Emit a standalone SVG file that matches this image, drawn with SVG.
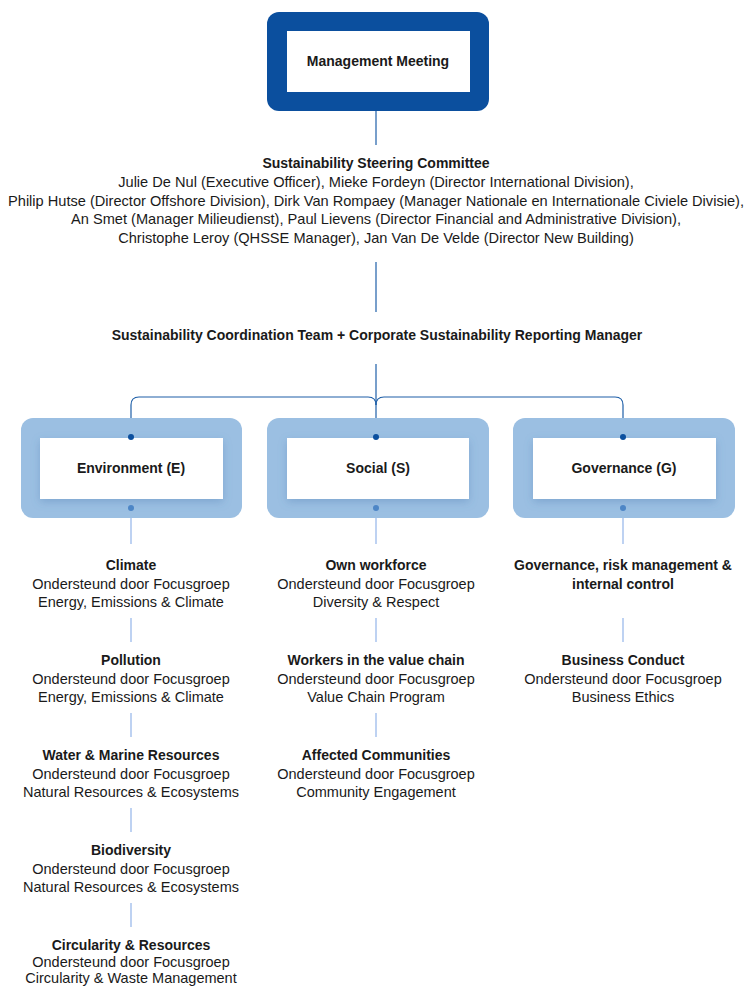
<svg xmlns="http://www.w3.org/2000/svg" width="747" height="986" viewBox="0 0 747 986">
<style>
text{font-family:"Liberation Sans",Arial,sans-serif;fill:#1a1a1a;text-anchor:middle}
.b{font-weight:bold;font-size:14px}
.r{font-size:14.5px}
.s{font-size:14.6px}
.dark{fill:#0B4F9E}
.light{fill:#9BBFE2}
.inner{fill:#ffffff}
.conn{fill:none;stroke:#1E5FA8;stroke-width:1.2}
.sep{fill:none;stroke:#A8C3EE;stroke-width:1.5}
.dot{fill:#0B4F9E}
.ldot{fill:#4D86C6}
</style>
<defs>
<filter id="sh" x="-20%" y="-30%" width="140%" height="160%">
<feDropShadow dx="0" dy="3" stdDeviation="4" flood-color="#4a78ae" flood-opacity="0.35"/>
</filter>
</defs>
<rect width="747" height="986" fill="#ffffff"/>

<g id="connectors">
<line class="conn" x1="376" y1="111" x2="376" y2="145"/>
<line class="conn" x1="376" y1="262" x2="376" y2="312"/>
<line class="conn" x1="376" y1="364" x2="376" y2="437"/>
<path class="conn" d="M131,437 V405 Q131,397 139,397 H368 Q376,397 376,405"/>
<path class="conn" d="M623,437 V405 Q623,397 615,397 H384 Q376,397 376,405"/>
<line class="sep" x1="131" y1="508" x2="131" y2="544"/>
<line class="sep" x1="376" y1="508" x2="376" y2="544"/>
<line class="sep" x1="623" y1="508" x2="623" y2="544"/>
<line class="sep" x1="131" y1="618" x2="131" y2="642"/>
<line class="sep" x1="131" y1="713" x2="131" y2="737"/>
<line class="sep" x1="131" y1="808" x2="131" y2="832"/>
<line class="sep" x1="131" y1="903" x2="131" y2="927"/>
<line class="sep" x1="376" y1="618" x2="376" y2="642"/>
<line class="sep" x1="376" y1="713" x2="376" y2="737"/>
<line class="sep" x1="623" y1="618" x2="623" y2="642"/>
</g>

<g id="management-meeting">
<rect class="dark" x="267" y="12" width="222" height="99" rx="12"/>
<rect class="inner" x="287" y="31" width="183" height="61"/>
<text class="b" x="378" y="66">Management Meeting</text>
</g>

<g id="steering-committee">
<text class="b" x="376" y="168">Sustainability Steering Committee</text>
<text class="s" x="376" y="187">Julie De Nul (Executive Officer), Mieke Fordeyn (Director International Division),</text>
<text class="s" x="376" y="205.5">Philip Hutse (Director Offshore Division), Dirk Van Rompaey (Manager Nationale en Internationale Civiele Divisie),</text>
<text class="s" x="376" y="224">An Smet (Manager Milieudienst), Paul Lievens (Director Financial and Administrative Division),</text>
<text class="s" x="376" y="242.5">Christophe Leroy (QHSSE Manager), Jan Van De Velde (Director New Building)</text>
</g>

<g id="coordination-team">
<text class="b" x="377" y="340">Sustainability Coordination Team + Corporate Sustainability Reporting Manager</text>
</g>

<g id="environment">
<rect class="light" x="21" y="418" width="221" height="100" rx="12"/>
<rect class="inner" x="40" y="438" width="183" height="61" filter="url(#sh)"/>
<text class="b" x="131" y="473">Environment (E)</text>
</g>
<g id="social">
<rect class="light" x="267" y="418" width="222" height="100" rx="12"/>
<rect class="inner" x="287" y="438" width="182" height="61" filter="url(#sh)"/>
<text class="b" x="378" y="473">Social (S)</text>
</g>
<g id="governance">
<rect class="light" x="513" y="418" width="222" height="100" rx="12"/>
<rect class="inner" x="533" y="438" width="183" height="61" filter="url(#sh)"/>
<text class="b" x="624" y="473">Governance (G)</text>
</g>

<g id="dots">
<circle class="dot" cx="131" cy="437" r="3"/>
<circle class="dot" cx="376" cy="437" r="3"/>
<circle class="dot" cx="623" cy="437" r="3"/>
<circle class="ldot" cx="131" cy="508" r="3"/>
<circle class="ldot" cx="376" cy="508" r="3"/>
<circle class="ldot" cx="623" cy="508" r="3"/>
</g>

<g id="climate">
<text class="b" x="131" y="570">Climate</text>
<text class="r" x="131" y="588.5">Ondersteund door Focusgroep</text>
<text class="r" x="131" y="607">Energy, Emissions &amp; Climate</text>
</g>
<g id="pollution">
<text class="b" x="131" y="665">Pollution</text>
<text class="r" x="131" y="683.5">Ondersteund door Focusgroep</text>
<text class="r" x="131" y="702">Energy, Emissions &amp; Climate</text>
</g>
<g id="water">
<text class="b" x="131" y="760">Water &amp; Marine Resources</text>
<text class="r" x="131" y="778.5">Ondersteund door Focusgroep</text>
<text class="r" x="131" y="797">Natural Resources &amp; Ecosystems</text>
</g>
<g id="biodiversity">
<text class="b" x="131" y="855">Biodiversity</text>
<text class="r" x="131" y="873.5">Ondersteund door Focusgroep</text>
<text class="r" x="131" y="892">Natural Resources &amp; Ecosystems</text>
</g>
<g id="circularity">
<text class="b" x="131" y="950">Circularity &amp; Resources</text>
<text class="r" x="131" y="967">Ondersteund door Focusgroep</text>
<text class="r" x="131" y="982.5">Circularity &amp; Waste Management</text>
</g>

<g id="own-workforce">
<text class="b" x="376" y="570">Own workforce</text>
<text class="r" x="376" y="588.5">Ondersteund door Focusgroep</text>
<text class="r" x="376" y="607">Diversity &amp; Respect</text>
</g>
<g id="workers-value-chain">
<text class="b" x="376" y="665">Workers in the value chain</text>
<text class="r" x="376" y="683.5">Ondersteund door Focusgroep</text>
<text class="r" x="376" y="702">Value Chain Program</text>
</g>
<g id="affected-communities">
<text class="b" x="376" y="760">Affected Communities</text>
<text class="r" x="376" y="778.5">Ondersteund door Focusgroep</text>
<text class="r" x="376" y="797">Community Engagement</text>
</g>

<g id="governance-risk">
<text class="b" x="623" y="570">Governance, risk management &amp;</text>
<text class="b" x="623" y="588.5">internal control</text>
</g>
<g id="business-conduct">
<text class="b" x="623" y="665">Business Conduct</text>
<text class="r" x="623" y="683.5">Ondersteund door Focusgroep</text>
<text class="r" x="623" y="702">Business Ethics</text>
</g>
</svg>
